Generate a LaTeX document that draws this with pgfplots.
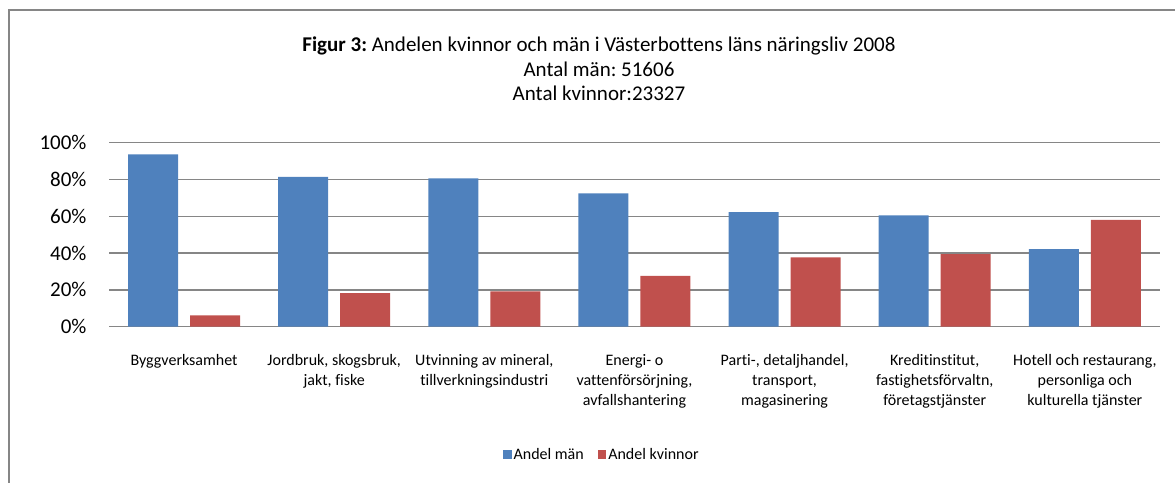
\documentclass[border=0pt]{standalone}
\usepackage{fontspec}
\setmainfont{Carlito}[Ligatures=NoCommon]
\usepackage{pgfplots}
\pgfplotsset{compat=1.18}
\definecolor{mblue}{HTML}{4F81BD}
\definecolor{mred}{HTML}{C0504D}
\definecolor{gridg}{HTML}{868686}
\frenchspacing
\begin{document}
\begin{tikzpicture}[x=1pt,y=1pt]
\useasboundingbox (0,0) rectangle (1175,-482);
\draw[gridg, line width=1.2pt] (9,-520) -- (9,-10) -- (1220,-10);
\node[align=center, font=\fontsize{21}{24.5}\selectfont] at (599,-69)
  {\textbf{Figur 3:} Andelen kvinnor och män i Västerbottens läns näringsliv 2008\\Antal män: 51606\\Antal kvinnor:23327};
\begin{axis}[
  at={(109pt,-326.7pt)}, anchor=south west,
  width=1051pt, height=184pt, scale only axis,
  xmin=-0.5, xmax=6.5, ymin=0, ymax=100,
  ytick={0,20,...,100},
  yticklabel={\pgfmathprintnumber{\tick}\%},
  /pgf/number format/assume math mode=true,
  yticklabel style={font=\fontsize{21}{24}\selectfont, xshift=-19pt},
  xtick={0,...,6},
  xticklabels={Byggverksamhet,{Jordbruk, skogsbruk,\\jakt, fiske},{Utvinning av mineral,\\tillverkningsindustri},{Energi- o\\vattenförsörjning,\\avfallshantering},{Parti-, detaljhandel,\\transport,\\magasinering},{Kreditinstitut,\\fastighetsförvaltn,\\företagstjänster},{Hotell och restaurang,\\personliga och\\kulturella tjänster}},
  xticklabel style={font=\fontsize{16}{20.3}\selectfont, align=center, anchor=north, yshift=-24pt},
  axis line style={draw=none},
  major tick length=0pt,
  ymajorgrids, grid style={gridg, line width=1.3pt},
  legend columns=2,
  legend style={at={(0.469,-0.694)}, anchor=center, draw=none, fill=none,
    font=\fontsize{16}{19}\selectfont,
    /tikz/every even column/.append style={column sep=12pt}},
  legend image code/.code={\fill[#1] (0pt,-4.25pt) rectangle (8.5pt,4.25pt);},
]
\addplot[ybar, bar width=50pt, bar shift=-31pt, fill=mblue, draw=none] coordinates {
(0,93.7) (1,81.4) (2,80.6) (3,72.5) (4,62.3) (5,60.5) (6,42.1)};
\addplot[ybar, bar width=50pt, bar shift=31pt, fill=mred, draw=none] coordinates {
(0,6.1) (1,18.3) (2,19.2) (3,27.6) (4,37.7) (5,39.4) (6,58.0)};
\legend{Andel män, Andel kvinnor}
\end{axis}
\end{tikzpicture}
\end{document}
